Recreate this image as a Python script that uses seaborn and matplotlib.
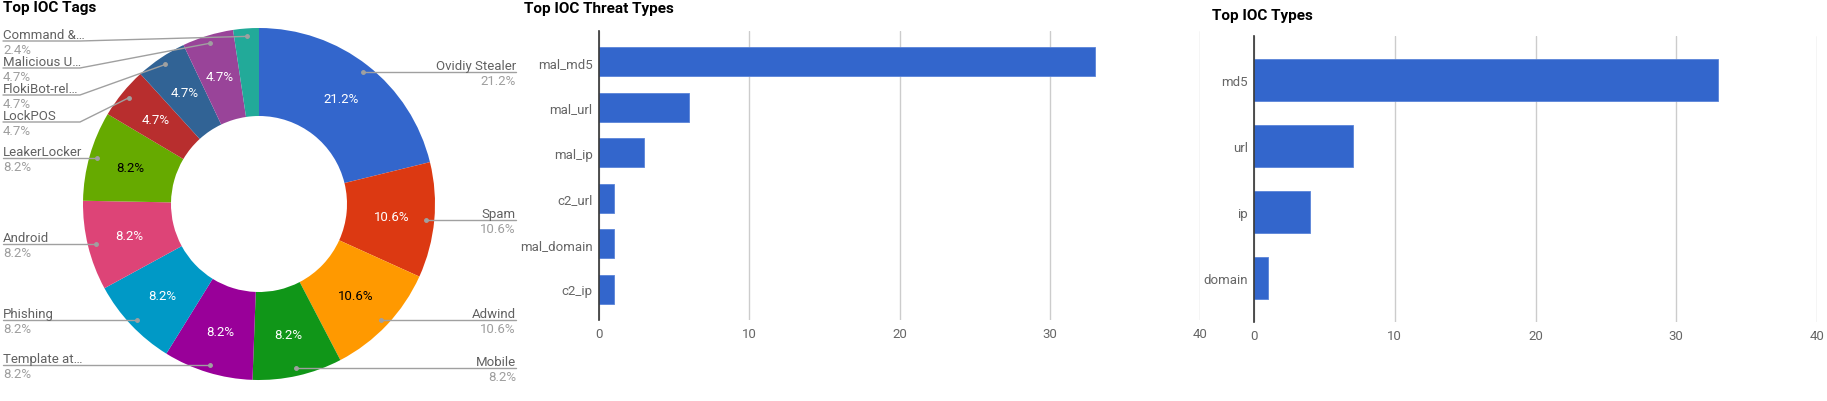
import numpy as np
import pandas as pd
import matplotlib
matplotlib.use('Agg')
import matplotlib.pyplot as plt
import seaborn as sns

# ---- data ----
tag_names = ['Ovidiy Stealer', 'Spam', 'Adwind', 'Mobile', 'Template at…', 'Phishing',
             'Android', 'LeakerLocker', 'LockPOS', 'FlokiBot-rel…', 'Malicious U…', 'Command &…']
tag_counts = [18, 9, 9, 7, 7, 7, 7, 7, 4, 4, 4, 2]
tag_colors = ['#3366cc', '#dc3912', '#ff9900', '#109618', '#990099', '#0099c6',
              '#dd4477', '#66aa00', '#b82e2e', '#316395', '#994499', '#22aa99']
pct_colors = ['white', 'white', 'black', 'white', 'white', 'white',
              'white', 'black', 'white', 'white', 'white', 'white']

threat_types = ['mal_md5', 'mal_url', 'mal_ip', 'c2_url', 'mal_domain', 'c2_ip']
threat_counts = [33, 6, 3, 1, 1, 1]

ioc_types = ['md5', 'url', 'ip', 'domain']
ioc_counts = [33, 7, 4, 1]

xticks = [0, 10, 20, 30, 40]

sns.set_theme(style='white')
plt.rcParams['font.family'] = ['Roboto', 'DejaVu Sans']

W, H = 1827, 402
fig = plt.figure(figsize=(W / 100, H / 100), dpi=100)

def fig_box(x0, y0, x1, y1):
    # pixel box (top-left origin) -> figure fraction rect
    return [x0 / W, (H - y1) / H, (x1 - x0) / W, (y1 - y0) / H]

blue = '#3366cc'
grey_txt = '#616161'
light_txt = '#9e9e9e'
line_col = '#a0a0a0'

# ---- donut chart ----
cx, cy, R = 259, 205, 176
pax = fig.add_axes(fig_box(0, 0, 520, H))
total = sum(tag_counts)

def pct_fmt(p):
    return f'{p:.1f}%' if p > 3 else ''

wedges, texts, autotexts = pax.pie(tag_counts, colors=tag_colors, startangle=90,
                                   counterclock=False, radius=1, autopct=pct_fmt,
                                   pctdistance=0.76,
                                   wedgeprops=dict(width=0.5, edgecolor='none'),
                                   textprops=dict(fontsize=9.5))
for t, c in zip(autotexts, pct_colors):
    t.set_color(c)
pax.set_xlim(-cx / R, (520 - cx) / R)
pax.set_ylim((cy - H) / R, cy / R)
pax.axis('off')

fracs = np.array(tag_counts) / total
mid = (np.cumsum(fracs) - fracs / 2) * 2 * np.pi
dot_r = 0.955
dot_x = dot_r * np.sin(mid)
dot_y = dot_r * np.cos(mid)

gap = 27 / R
top_cap = (cy - 42) / R
lab_y = dot_y.copy()
for side in (dot_x < 0, dot_x >= 0):
    idx = np.where(side)[0]
    idx = idx[np.argsort(-dot_y[idx])]
    prev = None
    for i in idx:
        y = min(dot_y[i], top_cap)
        if prev is not None:
            y = min(y, prev - gap)
        lab_y[i] = y
        prev = y

left_x, left_knee = (3 - cx) / R, (80 - cx) / R
right_x, right_knee = (516 - cx) / R, (440 - cx) / R
for i, name in enumerate(tag_names):
    pct = f'{tag_counts[i] / total * 100:.1f}%'
    if dot_x[i] < 0:
        xs = [left_x, left_knee, dot_x[i]]
        tx, ha = left_x, 'left'
    else:
        xs = [dot_x[i], right_knee, right_x]
        tx, ha = right_x, 'right'
    ys = [lab_y[i], lab_y[i], dot_y[i]] if dot_x[i] < 0 else [dot_y[i], lab_y[i], lab_y[i]]
    pax.plot(xs, ys, color=line_col, lw=1, zorder=3)
    pax.plot(dot_x[i], dot_y[i], 'o', ms=2.5, color=line_col, zorder=4)
    pax.text(tx, lab_y[i] + 3 / R, name, ha=ha, va='baseline', fontsize=9.5, color=grey_txt)
    pax.text(tx, lab_y[i] - 2 / R, pct, ha=ha, va='top', fontsize=9.5, color=light_txt)

fig.text(3 / W, 1 - 8 / H, 'Top IOC Tags', ha='left', va='center',
         fontsize=11, fontweight='bold', color='black')

# ---- horizontal bar charts ----
def bar_panel(box, cats, vals, title, title_xy):
    ax = fig.add_axes(fig_box(*box))
    df = pd.DataFrame({'cat': cats, 'val': vals})
    sns.barplot(data=df, x='val', y='cat', order=cats, orient='h', color=blue,
                saturation=1, width=0.64, ax=ax, edgecolor='#5a84d8', linewidth=0.6,
                zorder=3)
    ax.set_xlim(0, 40)
    ax.set_xticks(xticks)
    ax.set_ylim(len(cats) - 1 + 0.67, -0.67)
    ax.grid(axis='x', color='#cccccc', lw=1, zorder=0)
    ax.grid(axis='y', visible=False)
    for s in ['top', 'right', 'bottom']:
        ax.spines[s].set_visible(False)
    ax.spines['left'].set_color('#333333')
    ax.spines['left'].set_linewidth(1.2)
    ax.spines['left'].set_zorder(4)
    ax.tick_params(axis='both', length=0, labelsize=9.5, colors='#666666')
    ax.tick_params(axis='y', pad=4.5)
    ax.tick_params(axis='x', pad=5)
    ax.set_xlabel('')
    ax.set_ylabel('')
    ax.set_axisbelow(True)
    fig.text(title_xy[0] / W, 1 - title_xy[1] / H, title, ha='left', va='center',
             fontsize=11, fontweight='bold', color='black')
    return ax

bar_panel((599, 32, 1200, 321), threat_types, threat_counts,
          'Top IOC Threat Types', (524, 9))
bar_panel((1254, 37, 1817, 323), ioc_types, ioc_counts,
          'Top IOC Types', (1212, 16))

fig.savefig('out.png', dpi=100, facecolor='white')
